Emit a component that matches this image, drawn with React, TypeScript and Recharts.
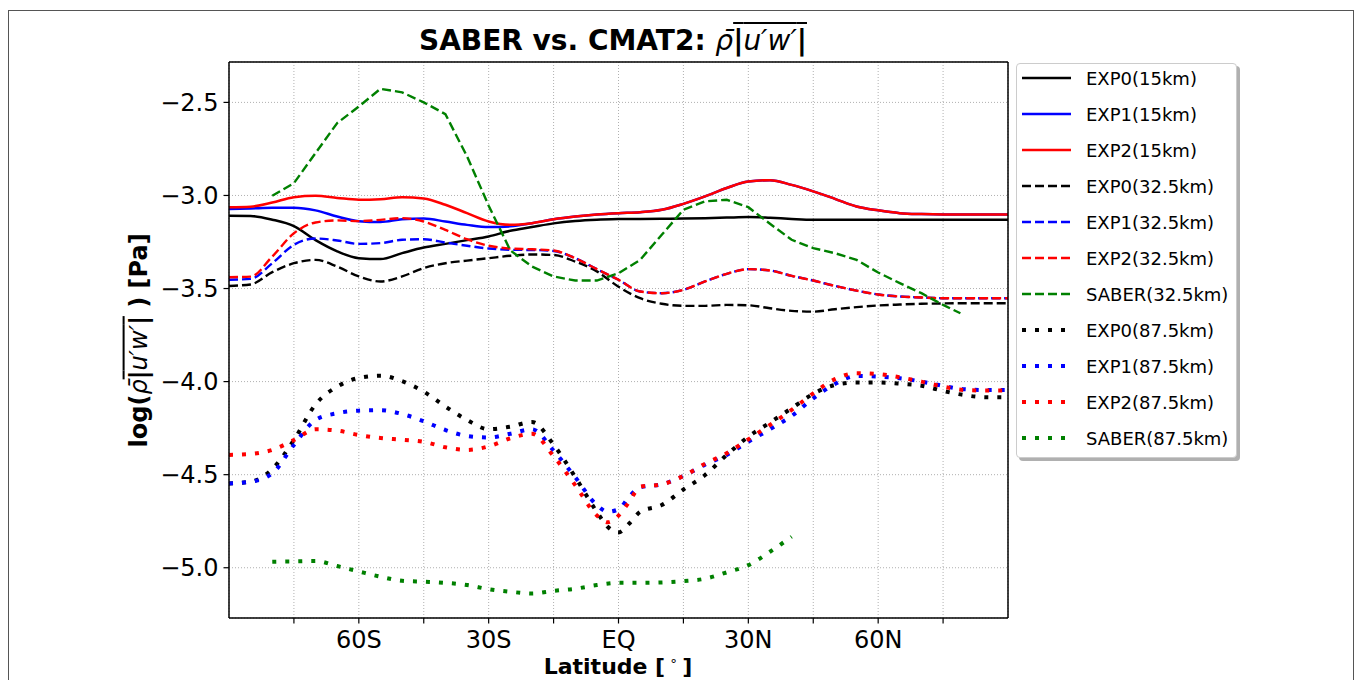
import { LineChart, Line, XAxis, YAxis, CartesianGrid, ReferenceLine } from "recharts";

// latitude grids (deg, negative = south)
const lats = [
  -90, -85, -80, -75, -70, -65, -60, -55, -50, -45, -40, -35, -30, -25, -20, -15, -10, -5,
  0, 5, 10, 15, 20, 25, 30, 35, 40, 45, 50, 55, 60, 65, 70, 75, 80, 85, 90,
];
const lats87 = [
  -90, -85, -80, -75, -70, -65, -60, -55, -50, -45, -40, -35, -30, -25, -20, -15, -10, -5,
  -2.5, 0, 2.5,
  5, 10, 15, 20, 25, 30, 35, 40, 45, 50, 55, 60, 65, 70, 75, 80, 85, 90,
];
const latsSaber32 = [
  -80, -75, -70, -65, -60, -55, -50, -45, -40, -35, -30, -25, -20, -15, -10, -5,
  0, 5, 10, 15, 20, 25, 30, 35, 40, 45, 50, 55, 60, 65, 70, 75, 79,
];
const latsSaber87 = [
  -80, -75, -70, -65, -60, -55, -50, -45, -40, -35, -30, -25, -20, -15, -10, -5,
  0, 5, 10, 15, 20, 25, 30, 35, 40,
];

// 15 km
const exp0_15 = [
  -3.109, -3.11, -3.13, -3.165, -3.24, -3.3, -3.337, -3.342, -3.31, -3.28, -3.26, -3.24, -3.22, -3.19, -3.17, -3.15, -3.137, -3.13,
  -3.127, -3.126, -3.125, -3.124, -3.122, -3.119, -3.116, -3.12, -3.126, -3.13, -3.13, -3.13, -3.13, -3.13, -3.13, -3.13, -3.13, -3.13, -3.13,
];
const exp1_15 = [
  -3.073, -3.07, -3.066, -3.066, -3.08, -3.113, -3.138, -3.143, -3.128, -3.124, -3.14, -3.158, -3.17, -3.166, -3.149, -3.128, -3.113, -3.102,
  -3.095, -3.09, -3.077, -3.045, -3.005, -2.96, -2.925, -2.918, -2.943, -2.978, -3.018, -3.059, -3.08, -3.095, -3.1, -3.102, -3.102, -3.102, -3.102,
];
const exp2_15 = [
  -3.063, -3.06, -3.038, -3.009, -3.002, -3.013, -3.023, -3.02, -3.009, -3.016, -3.05, -3.095, -3.14, -3.158, -3.149, -3.128, -3.113, -3.102,
  -3.095, -3.09, -3.077, -3.045, -3.005, -2.96, -2.925, -2.918, -2.943, -2.978, -3.018, -3.059, -3.08, -3.095, -3.1, -3.102, -3.102, -3.102, -3.102,
];

// 32.5 km
const exp0_32 = [
  -3.486, -3.478, -3.412, -3.364, -3.346, -3.382, -3.435, -3.462, -3.435, -3.39, -3.364, -3.35, -3.337, -3.324, -3.317, -3.32, -3.355, -3.408,
  -3.49, -3.552, -3.582, -3.593, -3.593, -3.588, -3.59, -3.606, -3.62, -3.624, -3.611, -3.6, -3.591, -3.586, -3.582, -3.58, -3.579, -3.579, -3.579,
];
const exp1_32 = [
  -3.453, -3.448, -3.364, -3.265, -3.231, -3.242, -3.26, -3.256, -3.238, -3.235, -3.253, -3.27, -3.285, -3.292, -3.293, -3.298, -3.337, -3.396,
  -3.453, -3.516, -3.525, -3.507, -3.462, -3.421, -3.396, -3.403, -3.432, -3.457, -3.486, -3.511, -3.532, -3.543, -3.548, -3.552, -3.552, -3.552, -3.552,
];
const exp2_32 = [
  -3.439, -3.436, -3.328, -3.203, -3.145, -3.134, -3.138, -3.131, -3.122, -3.14, -3.185, -3.235, -3.27, -3.285, -3.289, -3.296, -3.337, -3.396,
  -3.453, -3.516, -3.525, -3.507, -3.462, -3.421, -3.396, -3.403, -3.432, -3.457, -3.486, -3.511, -3.532, -3.543, -3.548, -3.552, -3.552, -3.552, -3.552,
];
const saber_32 = [
  -3.002, -2.934, -2.772, -2.611, -2.522, -2.427, -2.446, -2.5, -2.563, -2.79, -3.055, -3.295, -3.382, -3.435, -3.457, -3.457,
  -3.418, -3.346, -3.211, -3.077, -3.032, -3.023, -3.063, -3.152, -3.238, -3.283, -3.31, -3.346, -3.414, -3.471, -3.525, -3.588, -3.633,
];

// 87.5 km
const exp0_87 = [
  -4.547, -4.538, -4.47, -4.314, -4.122, -4.027, -3.98, -3.968, -3.998, -4.054, -4.134, -4.206, -4.256, -4.242, -4.217, -4.339, -4.513, -4.7,
  -4.78, -4.81, -4.762,
  -4.7, -4.663, -4.58, -4.502, -4.394, -4.296, -4.22, -4.143, -4.066, -4.018, -4.005, -4.005, -4.011, -4.022, -4.05, -4.073, -4.084, -4.084,
];
const exp1_87 = [
  -4.547, -4.538, -4.493, -4.34, -4.206, -4.17, -4.156, -4.154, -4.174, -4.213, -4.26, -4.292, -4.3, -4.28, -4.256, -4.371, -4.514, -4.663,
  -4.699, -4.686, -4.618,
  -4.568, -4.552, -4.507, -4.446, -4.394, -4.323, -4.256, -4.185, -4.09, -4.013, -3.97, -3.973, -3.982, -4.0, -4.023, -4.041, -4.045, -4.045,
];
const exp2_87 = [
  -4.394, -4.389, -4.367, -4.314, -4.256, -4.263, -4.287, -4.303, -4.312, -4.323, -4.353, -4.367, -4.348, -4.305, -4.28, -4.401, -4.556, -4.719,
  -4.756, -4.72, -4.645,
  -4.565, -4.552, -4.507, -4.441, -4.385, -4.31, -4.233, -4.152, -4.063, -3.987, -3.955, -3.959, -3.977, -4.0, -4.027, -4.045, -4.048, -4.048,
];
const saber_87 = [
  -4.968, -4.966, -4.964, -4.991, -5.02, -5.048, -5.07, -5.075, -5.081, -5.093, -5.115, -5.129, -5.138, -5.124, -5.113, -5.093,
  -5.081, -5.081, -5.079, -5.072, -5.059, -5.025, -4.986, -4.914, -4.833,
];

const xTicks = [-75, -60, -45, -30, -15, 0, 15, 30, 45, 60, 75];
const xTickLabels: Record<number, string> = { [-60]: "60S", [-30]: "30S", 0: "EQ", 30: "30N", 60: "60N" };
const yTicks = [-5.0, -4.5, -4.0, -3.5, -3.0, -2.5];

const Y_MIN = -5.27;
const Y_MAX = -2.283;

const FONT = '"DejaVu Sans", Verdana, sans-serif';

type Kind = "solid" | "dashed" | "dotted";

const styles: Record<Kind, { width: number; dash?: string }> = {
  solid: { width: 2.5 },
  dashed: { width: 2.4, dash: "9 4" },
  dotted: { width: 4, dash: "4 9" },
};

const series: { name: string; lats: number[]; values: number[]; color: string; kind: Kind; curve: "monotone" | "linear" }[] = [
  { name: "EXP0(15km)", lats, values: exp0_15, color: "#000000", kind: "solid", curve: "monotone" },
  { name: "EXP1(15km)", lats, values: exp1_15, color: "#0000ff", kind: "solid", curve: "monotone" },
  { name: "EXP2(15km)", lats, values: exp2_15, color: "#ff0000", kind: "solid", curve: "monotone" },
  { name: "EXP0(32.5km)", lats, values: exp0_32, color: "#000000", kind: "dashed", curve: "monotone" },
  { name: "EXP1(32.5km)", lats, values: exp1_32, color: "#0000ff", kind: "dashed", curve: "monotone" },
  { name: "EXP2(32.5km)", lats, values: exp2_32, color: "#ff0000", kind: "dashed", curve: "monotone" },
  { name: "SABER(32.5km)", lats: latsSaber32, values: saber_32, color: "#008000", kind: "dashed", curve: "linear" },
  { name: "EXP0(87.5km)", lats: lats87, values: exp0_87, color: "#000000", kind: "dotted", curve: "monotone" },
  { name: "EXP1(87.5km)", lats: lats87, values: exp1_87, color: "#0000ff", kind: "dotted", curve: "monotone" },
  { name: "EXP2(87.5km)", lats: lats87, values: exp2_87, color: "#ff0000", kind: "dotted", curve: "monotone" },
  { name: "SABER(87.5km)", lats: latsSaber87, values: saber_87, color: "#008000", kind: "dotted", curve: "monotone" },
];

const fmtY = (v: number) => v.toFixed(1).replace("-", "\u2212");
const fmtX = (v: number) => xTickLabels[v] ?? "";

// rho-bar |u'w'| with an overline across the bars
function MathPart() {
  return (
    <span style={{ fontWeight: 400 }}>
      <span style={{ fontStyle: "italic" }}>{"\u03c1\u0304"}</span>
      <span style={{ textDecoration: "overline", textDecorationThickness: 2 }}>
        <span style={{ fontWeight: 700 }}>|</span>
        <span style={{ fontStyle: "italic" }}>{"u\u2032w\u2032"}</span>
        <span style={{ fontWeight: 700 }}>|</span>
      </span>
    </span>
  );
}

function LegendBox() {
  return (
    <div
      style={{
        position: "absolute",
        left: 1008,
        top: 55,
        width: 221,
        height: 395,
        boxSizing: "border-box",
        border: "1px solid #cccccc",
        borderRadius: 4,
        background: "#fff",
        boxShadow: "3px 3px 0 #b0b0b0",
      }}
    >
      <svg width={221} height={395} style={{ position: "absolute", left: -1, top: -1 }}>
        {series.map((s, i) => {
          const y = 15 + i * 36;
          const st = styles[s.kind];
          return (
            <g key={s.name}>
              <line x1={6} x2={55} y1={y} y2={y} stroke={s.color} strokeWidth={st.width} strokeDasharray={st.dash} />
              <text x={70} y={y + 6.7} fontSize={18} fontFamily={FONT} fill="#000">
                {s.name}
              </text>
            </g>
          );
        })}
      </svg>
    </div>
  );
}

export default function App() {
  return (
    <div style={{ position: "fixed", left: 0, top: 0, width: 1356, height: 680, overflow: "hidden", background: "#fff" }}>
      <div style={{ position: "absolute", left: 8, top: 8, width: 1340, height: 664, fontFamily: FONT, color: "#000" }}>
        <div
          style={{
            position: "absolute",
            left: 0,
            top: 2,
            width: 1346,
            height: 720,
            boxSizing: "border-box",
            border: "1.5px solid #555",
          }}
        />
        <div style={{ position: "absolute", left: 0, top: 0 }}>
          <LineChart width={1340} height={664} margin={{ top: 54, right: 340, bottom: 14, left: 151 }}>
            <CartesianGrid stroke="#b0b0b0" strokeDasharray="1 2" strokeWidth={1} />
            <XAxis
              type="number"
              dataKey="lat"
              domain={[-90, 90]}
              ticks={xTicks}
              interval={0}
              allowDataOverflow
              tickFormatter={fmtX}
              height={40}
              tickSize={5.5}
              tickMargin={7}
              axisLine={{ stroke: "#000", strokeWidth: 1.5 }}
              tickLine={{ stroke: "#000", strokeWidth: 1.2 }}
              tick={{ fill: "#000", fontSize: 24, fontFamily: FONT }}
            />
            <YAxis
              type="number"
              domain={[Y_MIN, Y_MAX]}
              ticks={yTicks}
              interval={0}
              allowDataOverflow
              tickFormatter={fmtY}
              width={70}
              tickSize={5.5}
              tickMargin={5}
              axisLine={{ stroke: "#000", strokeWidth: 1.5 }}
              tickLine={{ stroke: "#000", strokeWidth: 1.2 }}
              tick={{ fill: "#000", fontSize: 24, fontFamily: FONT }}
            />
            {series.map((s) => {
              const st = styles[s.kind];
              return (
                <Line
                  key={s.name}
                  name={s.name}
                  data={s.lats.map((lat, i) => ({ lat, v: s.values[i] }))}
                  dataKey="v"
                  type={s.curve}
                  stroke={s.color}
                  strokeWidth={st.width}
                  strokeDasharray={st.dash}
                  dot={false}
                  activeDot={false}
                  isAnimationActive={false}
                />
              );
            })}
            <ReferenceLine y={Y_MAX} stroke="#000" strokeWidth={1.5} />
            <ReferenceLine x={90} stroke="#000" strokeWidth={1.5} />
          </LineChart>
        </div>

        <div
          style={{
            position: "absolute",
            left: 305,
            top: 16,
            width: 600,
            textAlign: "center",
            fontSize: 28,
            lineHeight: 1.2,
            fontWeight: 700,
            whiteSpace: "nowrap",
          }}
        >
          SABER vs. CMAT2: <MathPart />
        </div>

        <div
          style={{
            position: "absolute",
            left: 410,
            top: 648,
            width: 400,
            textAlign: "center",
            fontSize: 22,
            lineHeight: 1,
            fontWeight: 700,
            whiteSpace: "nowrap",
          }}
        >
          Latitude [{"\u2009"}
          <span style={{ fontWeight: 400, fontSize: "0.6em", position: "relative", top: "-0.7em" }}>{"\u2218"}</span>
          {"\u2009"}]
        </div>

        <div
          style={{
            position: "absolute",
            left: -69,
            top: 317.6,
            width: 400,
            height: 28.8,
            textAlign: "center",
            fontSize: 24,
            lineHeight: 1.2,
            fontWeight: 700,
            whiteSpace: "nowrap",
            transform: "rotate(-90deg)",
            transformOrigin: "50% 50%",
          }}
        >
          log(<MathPart /> ) [Pa]
        </div>

        <LegendBox />
      </div>
    </div>
  );
}
